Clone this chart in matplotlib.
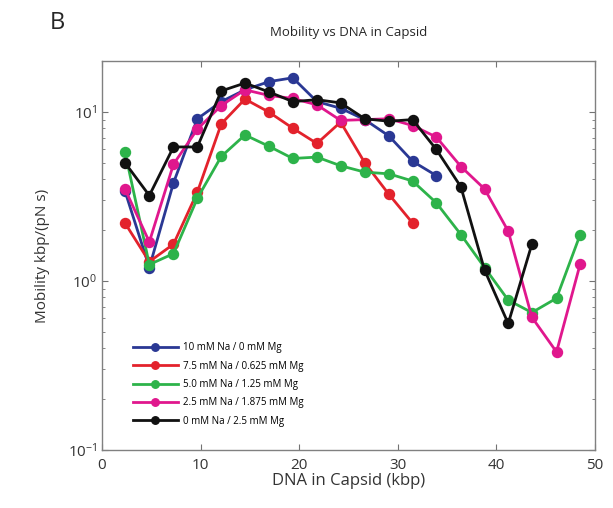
"""Mobility vs DNA packaged in capsid, five Na/Mg buffer conditions."""
import numpy as np
import matplotlib
matplotlib.use("Agg")
import matplotlib.pyplot as plt

plt.rcParams["font.family"] = ["Open Sans", "DejaVu Sans"]
plt.rcParams["mathtext.fontset"] = "custom"
plt.rcParams["mathtext.rm"] = "Open Sans"
plt.rcParams["mathtext.it"] = "Open Sans:italic"

# DNA in capsid (kbp), shared sampling grid
dna = [2.33, 4.8, 7.25, 9.67, 12.1, 14.5, 16.95, 19.35, 21.8, 24.2,
       26.65, 29.1, 31.5, 33.9, 36.4, 38.8, 41.2, 43.6, 46.1, 48.5]

# mobility kbp/(pN s) per buffer
mob_na10 = [3.4, 1.2, 3.8, 9.1, 11.5, 13.5, 15.1, 15.9, 11.5, 10.5,
            9.0, 7.2, 5.1, 4.2]
mob_na75 = [2.2, 1.3, 1.65, 3.35, 8.5, 11.9, 9.95, 8.0, 6.5, 8.7,
            5.0, 3.25, 2.2]
mob_na50 = [5.8, 1.25, 1.45, 3.08, 5.45, 7.3, 6.25, 5.3, 5.4, 4.8,
            4.4, 4.3, 3.9, 2.9, 1.88, 1.2, 0.77, 0.65, 0.79, 1.88]
mob_na25 = [3.5, 1.7, 4.9, 7.9, 10.9, 13.5, 12.5, 12.0, 11.0, 8.9,
            9.0, 9.1, 8.3, 7.1, 4.75, 3.5, 1.97, 0.61, 0.38, 1.26]
mob_na0 = [5.0, 3.2, 6.2, 6.2, 13.3, 14.8, 13.1, 11.5, 11.8, 11.3,
           9.1, 8.8, 9.0, 6.0, 3.6, 1.16, 0.56, 1.65]

labels = ["10 mM Na / 0 mM Mg",
          "7.5 mM Na / 0.625 mM Mg",
          "5.0 mM Na / 1.25 mM Mg",
          "2.5 mM Na / 1.875 mM Mg",
          "0 mM Na / 2.5 mM Mg"]
series = [mob_na10, mob_na75, mob_na50, mob_na25, mob_na0]
colors = ["#2a3894", "#e3222c", "#2db34a", "#e0178d", "#111111"]

fig = plt.figure(figsize=(6.13, 5.08), dpi=100)
ax = fig.add_axes([0.1664, 0.1142, 0.8042, 0.7658])

for ys, c, lab in zip(series, colors, labels):
    ax.plot(dna[:len(ys)], ys, "-o", color=c, lw=2.0, ms=7.2,
            mec=c, mfc=c, label=lab)

ax.set_yscale("log")
ax.set_xlim(0, 50)
ax.set_ylim(0.1, 20)
ax.set_xticks([0, 10, 20, 30, 40, 50])
ax.set_yticks([0.1, 1, 10])
ax.set_yticklabels([r"$10^{-1}$", r"$10^{0}$", r"$10^{1}$"])
ax.tick_params(which="both", direction="in", top=True, right=True,
               color="0.45", labelsize=11, labelcolor="0.2")
ax.tick_params(axis="x", pad=6)
ax.tick_params(which="major", length=4, width=0.8)
ax.tick_params(which="minor", length=2.5, width=0.6)
for s in ax.spines.values():
    s.set_color("0.5")
    s.set_linewidth(1.0)

ax.set_xlabel("DNA in Capsid (kbp)", fontsize=12, color="0.2", labelpad=0)
ax.set_ylabel("Mobility kbp/(pN s)", fontsize=11, color="0.2", labelpad=13)
ax.set_title("Mobility vs DNA in Capsid", fontsize=9.5, color="0.15", pad=18)
fig.text(0.093, 0.955, "B", fontsize=17, color="0.15", ha="center", va="center")

ax.legend(loc="lower left", bbox_to_anchor=(0.055, 0.05), frameon=False,
          fontsize=7, handlelength=4.6, handletextpad=0.5,
          labelspacing=0.75, borderaxespad=0, markerscale=0.75)

fig.savefig("out.png", dpi=100)
